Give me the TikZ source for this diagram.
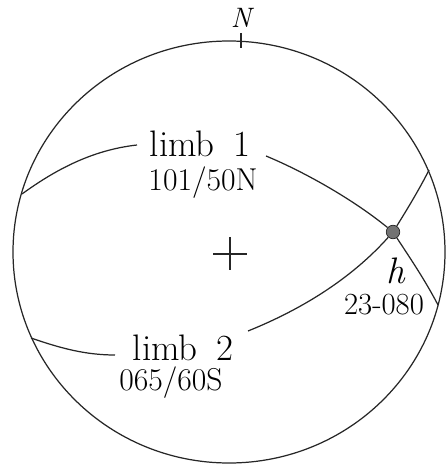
\documentclass[tikz,border=0pt]{standalone}
\usetikzlibrary{positioning}

\begin{document}
\begin{tikzpicture}[
                    x=0.02cm, y=-0.02cm,
                    net/.style={draw=black!85, line width=0.7pt},
                    limb/.style={inner sep=0pt, anchor=base, font=\fontsize{21}{23}\selectfont},
                    attitude/.style={inner sep=0pt, anchor=base, font=\fontsize{18}{20}\selectfont},
                    hinge/.style={circle, draw=black!85, fill=black!55, minimum size=0.27cm, inner sep=0pt}
                ]
                \useasboundingbox (0,0) rectangle (446,465);

                % Net and centre
                \coordinate (centre) at (229,252);
                \draw[net] (centre) ellipse [x radius=216, y radius=211];
                \draw[net] (213,254) coordinate (cross_w) -- (247,254) coordinate (cross_e);
                \draw[net] (230,237) coordinate (cross_n) -- (230,270) coordinate (cross_s);

                % North
                \node[inner sep=0pt, anchor=base, font=\fontsize{16}{17}\selectfont\itshape] (north) at (241,28) {N};
                \draw[net] (241,33) coordinate (tick_n) -- (241,48) coordinate (tick_s);

                % Labels
                \node[limb] (limb_a) at (200,157) {limb\,\,\,1};
                \node[attitude] (att_a) at (203,191) {101/50N};
                \node[limb] (limb_b) at (183,360) {limb\,\,\,2};
                \node[attitude] (att_b) at (171,390) {065/60S};
                \node[inner sep=0pt, anchor=base, font=\fontsize{21}{23}\selectfont\itshape] (hlabel) at (396,283) {h};
                \node[attitude, font=\fontsize{17.5}{19}\selectfont] (att_h) at (384,314) {23-080};

                % Hinge
                \node[hinge] (hinge) at (393,232) {};

                % Ends of the great circles
                \coordinate (a_w) at (22,194);
                \coordinate (a_g1) at (137,145);
                \coordinate (a_g2) at (266,156);
                \coordinate (a_e) at (429,170);
                \coordinate (b_w) at (31,338);
                \coordinate (b_g1) at (115,355);
                \coordinate (b_g2) at (248,331);
                \coordinate (b_e) at (438,305);

                % Great circles
                \draw[net] (a_w) .. controls (55,170) and (92,150) .. (a_g1);
                \draw[net] (a_g2) .. controls (300,170) and (350,197) .. (hinge);
                \draw[net] (hinge) .. controls (408,208) and (420,188) .. (a_e);
                \draw[net] (b_w) .. controls (60,348) and (85,355) .. (b_g1);
                \draw[net] (b_g2) .. controls (300,310) and (350,280) .. (hinge);
                \draw[net] (hinge) .. controls (410,258) and (425,280) .. (b_e);
            \end{tikzpicture}
\end{document}
